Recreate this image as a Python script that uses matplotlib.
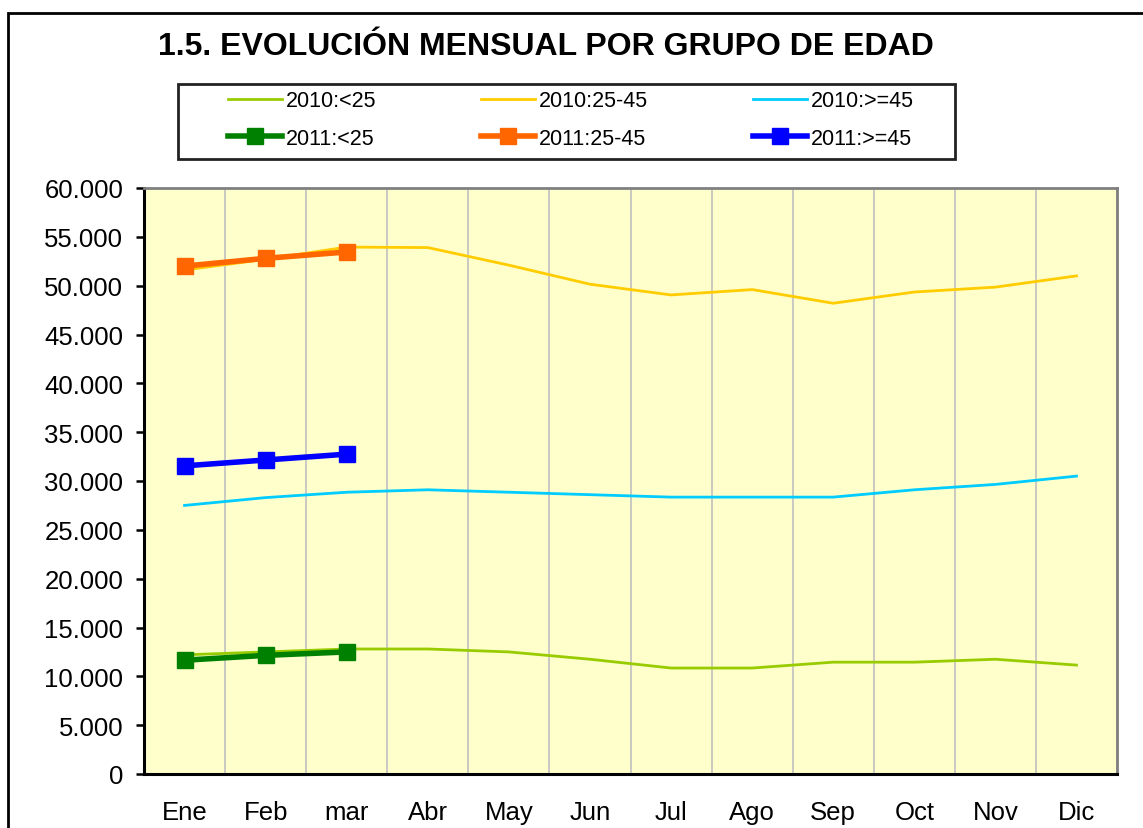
import matplotlib
matplotlib.use("Agg")
import matplotlib.pyplot as plt
from matplotlib.patches import Rectangle
from matplotlib.ticker import FuncFormatter, MultipleLocator

plt.rcParams['font.family'] = ['Liberation Sans', 'DejaVu Sans']

months = ["Ene", "Feb", "mar", "Abr", "May", "Jun", "Jul", "Ago", "Sep", "Oct", "Nov", "Dic"]

# 2010 series (all months)
y2010_lt25 = [12200, 12500, 12800, 12800, 12500, 11750, 10850, 10850, 11450, 11450, 11750, 11150]
y2010_25_45 = [51600, 52700, 53950, 53900, 52100, 50150, 49050, 49600, 48200, 49350, 49850, 51000]
y2010_ge45 = [27500, 28300, 28850, 29100, 28850, 28600, 28350, 28350, 28350, 29100, 29650, 30500]

# 2011 series (first three months)
y2011_lt25 = [11650, 12150, 12500]
y2011_25_45 = [52000, 52800, 53450]
y2011_ge45 = [31550, 32150, 32750]

x = list(range(len(months)))

W, H = 1143, 829
fig = plt.figure(figsize=(W / 100, H / 100), dpi=100)
ax = fig.add_axes([144/W, 1 - 775/H, (1117 - 144)/W, (775 - 189)/H])
ax.set_facecolor("#FFFFCC")

l1, = ax.plot(x, y2010_lt25, color="#99CC00", lw=2, label="2010:<25")
l2, = ax.plot(x, y2010_25_45, color="#FFCC00", lw=2, label="2010:25-45")
l3, = ax.plot(x, y2010_ge45, color="#00CCFF", lw=2, label="2010:>=45")
m1, = ax.plot(x[:3], y2011_lt25, color="#008000", lw=4, marker="s", ms=12, label="2011:<25")
m2, = ax.plot(x[:3], y2011_25_45, color="#FF6600", lw=4, marker="s", ms=12, label="2011:25-45")
m3, = ax.plot(x[:3], y2011_ge45, color="#0000FF", lw=4, marker="s", ms=12, label="2011:>=45")

ax.set_xlim(-0.5, len(months) - 0.5)
ax.set_ylim(0, 60000)
ax.set_xticks(x)
ax.set_xticklabels(months)
ax.xaxis.set_minor_locator(MultipleLocator(1, offset=0.5))
ax.tick_params(axis="x", which="both", length=0, pad=19, labelsize=18.5)
ax.grid(axis="x", which="minor", color="#C0C0C0", lw=1.2)
ax.yaxis.set_major_locator(MultipleLocator(5000))
ax.yaxis.set_major_formatter(FuncFormatter(lambda v, p: f"{v:,.0f}".replace(",", ".")))
ax.tick_params(axis="y", length=6, width=1.8, pad=9, labelsize=18.5)

for side in ["left", "bottom"]:
    ax.spines[side].set_color("black")
    ax.spines[side].set_linewidth(2.2)
for side in ["top", "right"]:
    ax.spines[side].set_color("#808080")
    ax.spines[side].set_linewidth(2)

fig.text(0.478, 1 - 47/H, "1.5. EVOLUCIÓN MENSUAL POR GRUPO DE EDAD",
         ha="center", va="center", fontsize=23, fontweight="bold")

# legend content without frame, box drawn separately (Excel-style padding)
handles = [l1, m1, l2, m2, l3, m3]
leg = fig.legend(handles, [h.get_label() for h in handles],
                 ncol=3, loc="center", bbox_to_anchor=(571/W, 1 - 120.5/H),
                 fontsize=15.5, handlelength=2.5, handletextpad=0.2,
                 columnspacing=4.85, borderpad=0, labelspacing=0.78,
                 frameon=False)
for h in leg.legend_handles[1::2]:
    h.set_markersize(12)
fig.patches.append(Rectangle((178/W, 1 - 160/H), (955 - 178)/W, 75/H,
                             transform=fig.transFigure, fill=False,
                             edgecolor="#222222", lw=2))

# outer chart border
fig.patches.append(Rectangle((8/W, -0.05), 1.1, 1 - 14/H + 0.05,
                             transform=fig.transFigure, fill=False,
                             edgecolor="black", lw=2))

fig.savefig("out.png", dpi=100)
